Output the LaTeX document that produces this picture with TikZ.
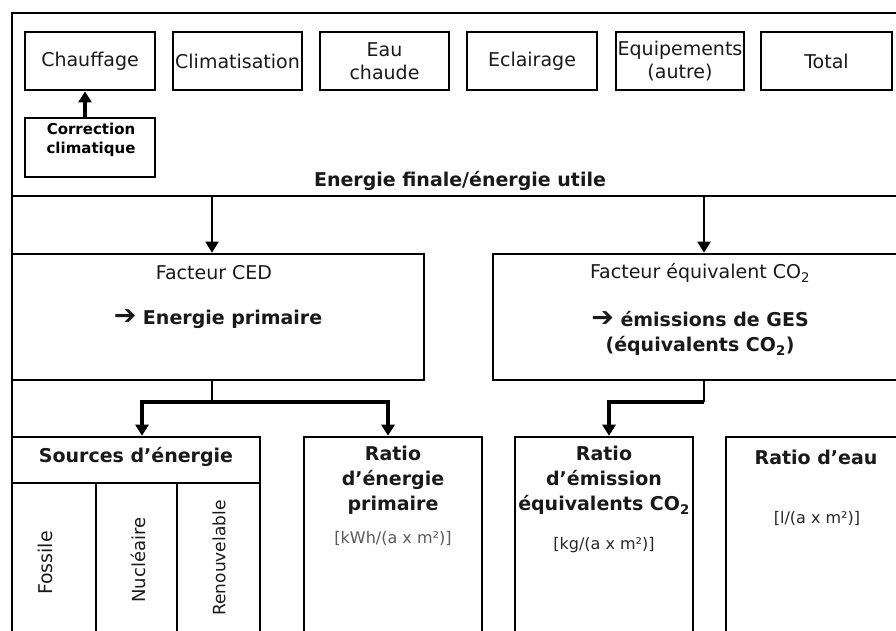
\documentclass[tikz,border=0pt]{standalone}
\usepackage{fontspec}
\setmainfont{DejaVu Sans}
\usetikzlibrary{arrows.meta}
\newcommand{\bigarr}{\raisebox{-0.5pt}{\fontsize{27}{25}\selectfont ➔}}
\begin{document}
\begin{tikzpicture}[x=1pt,y=-1pt,
  lbl/.style={font=\fontsize{19}{23}\selectfont, inner sep=0pt, align=center, text=black!90},
  blbl/.style={inner sep=0pt, align=center, text=black!90, font=\fontsize{19}{25}\selectfont\bfseries},
  unit/.style={inner sep=0pt, font=\fontsize{16}{19}\selectfont, text=black!65},
  topbox/.style={draw, line width=2.8pt, minimum height=58pt, inner sep=0pt, align=center, font=\fontsize{19}{23}\selectfont, text=black!90},
  bigbox/.style={draw, line width=2.6pt, inner sep=0pt},
  thinl/.style={line width=1.8pt},
  thickl/.style={line width=3.2pt},
  tip/.style={-{Triangle[length=11pt,width=13pt]}},
]
\useasboundingbox (0,0) rectangle (896,630);
\clip (0,0) rectangle (896,630);
% outer frame
\coordinate (fTL) at (12,13);
\coordinate (fTR) at (910,13);
\coordinate (fBL) at (12,640);
\coordinate (mL) at (12,196);
\coordinate (mR) at (910,196);
\draw[line width=2.2pt] (fTR) -- (fTL) -- (fBL);
\draw[thinl] (mL) -- (mR);
% top boxes
\node[topbox, minimum width=130pt] (chauf) at (90,61) {Chauffage};
\node[topbox, minimum width=129pt] (clim) at (237.5,61) {Climatisation};
\node[topbox, minimum width=129pt] (eau) at (384.5,61) {Eau\\chaude};
\node[topbox, minimum width=130pt] (ecl) at (532,61) {Eclairage};
\node[topbox, minimum width=128pt] (equ) at (680,61) {Equipements\\(autre)};
\node[topbox, minimum width=131pt] (tot) at (826.5,61) {Total};
\node[topbox, minimum width=130pt, minimum height=59pt] (corr) at (90,147.5) {};
\node[inner sep=0pt, align=center, font=\fontsize{15}{19}\selectfont\bfseries] (corrT) at (91,140) {Correction\\climatique};
\draw[thickl, tip] ([xshift=-5pt]corr.north) -- ([xshift=-5pt]chauf.south);
\node[blbl] (ef) at (460,181) {Energie finale/énergie utile};
% factor boxes
\node[bigbox, minimum width=412pt, minimum height=126pt] (ced) at (218,317) {};
\node[bigbox, minimum width=412pt, minimum height=126pt] (co) at (699,317) {};
\coordinate (s1) at (212,196);
\coordinate (s2) at (704,196);
\draw[thinl, tip] (s1) -- (s1 |- ced.north);
\draw[thinl, tip] (s2) -- (s2 |- co.north);
\node[lbl] (cedA) at (214,273) {Facteur CED};
\node[blbl] (cedB) at (218,319) {\bigarr\ Energie primaire};
\node[lbl] (coA) at (700,273) {Facteur équivalent CO\textsubscript{2}};
\node[blbl] (coB) at (700,333) {\bigarr\ émissions de GES\\(équivalents CO\textsubscript{2})};
% bottom boxes
\node[bigbox, minimum width=248pt, minimum height=223pt] (src) at (136,548.5) {};
\node[bigbox, minimum width=178pt, minimum height=223pt] (rep) at (393,548.5) {};
\node[bigbox, minimum width=178pt, minimum height=223pt] (rem) at (604,548.5) {};
\node[bigbox, minimum width=179pt, minimum height=223pt] (reau) at (815.5,548.5) {};
% connectors to bottom
\coordinate (j1) at (212,402);
\coordinate (a1) at (142,402);
\coordinate (a2) at (388,402);
\coordinate (j2) at (704,402);
\coordinate (a3) at (609,402);
\draw[thinl] (ced.south -| j1) -- (j1);
\draw[thickl, tip] (j1) -- (a1) -- (a1 |- src.north);
\draw[thickl, tip] (j1) -- (a2) -- (a2 |- rep.north);
\draw[thinl] (co.south -| j2) -- (j2);
\draw[thickl, tip] (j2) -- (a3) -- (a3 |- rem.north);
% sources table
\coordinate (h0) at (12,483);
\coordinate (h1) at (260,483);
\coordinate (c1t) at (96,483);
\coordinate (c1b) at (96,640);
\coordinate (c2t) at (177,483);
\coordinate (c2b) at (177,640);
\draw[line width=2.2pt] (h0) -- (h1);
\draw[line width=2.2pt] (c1t) -- (c1b);
\draw[line width=2.2pt] (c2t) -- (c2b);
\node[blbl] (srcT) at (136,457) {Sources d’énergie};
\node[lbl, rotate=90] (fos) at (45,563) {Fossile};
\node[lbl, rotate=90, font=\fontsize{18}{22}\selectfont] (nuc) at (138,560) {Nucléaire};
\node[lbl, rotate=90, font=\fontsize{17}{21}\selectfont] (ren) at (219,558) {Renouvelable};
% ratios
\node[blbl] (repT) at (393,480) {Ratio\\d’énergie\\primaire};
\node[unit] (repU) at (393,538) {[kWh/(a x m²)]};
\node[blbl] (remT) at (604,480) {Ratio\\d’émission\\équivalents CO\textsubscript{2}};
\node[unit, text=black!85] (remU) at (604,545) {[kg/(a x m²)]};
\node[blbl] (reauT) at (816,457) {Ratio d’eau};
\node[unit, text=black!85] (reauU) at (817,518) {[l/(a x m²)]};
\end{tikzpicture}
\end{document}
